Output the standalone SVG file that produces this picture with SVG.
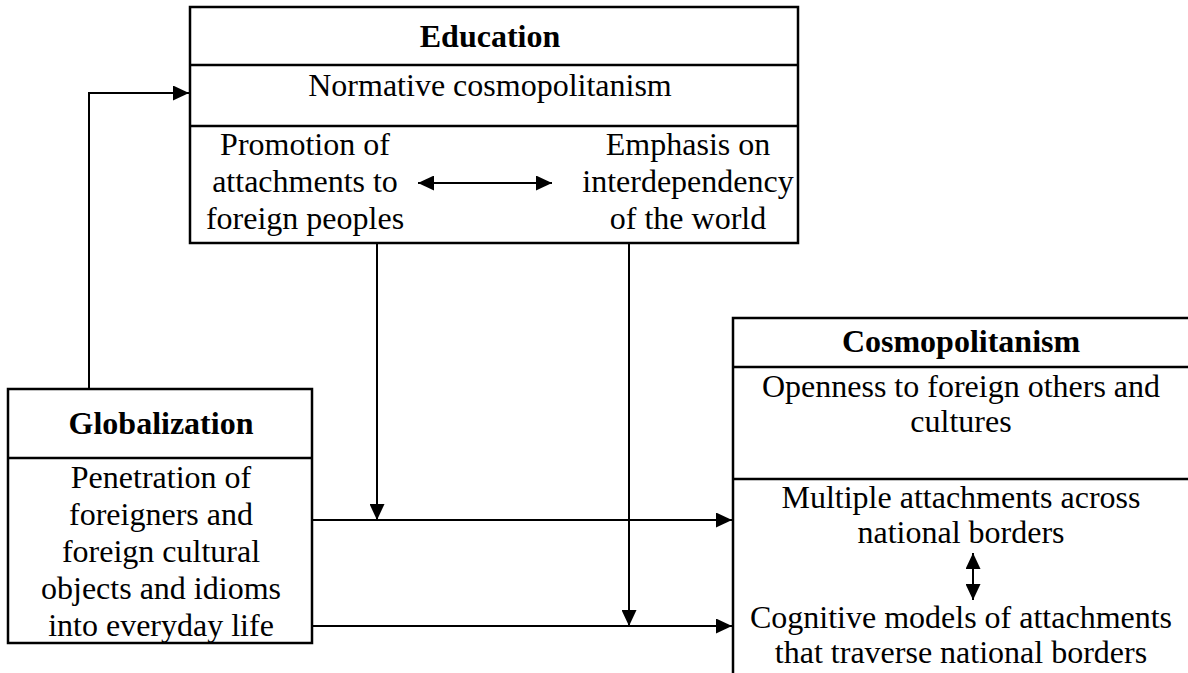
<svg xmlns="http://www.w3.org/2000/svg" width="1188" height="673" viewBox="0 0 1188 673">
<style>
.box{fill:none;stroke:#000;stroke-width:2.5}
.div{stroke:#000;stroke-width:2.5}
.t{font-family:"Liberation Serif","Times New Roman",serif;font-size:32px;fill:#000;text-anchor:middle}
.b{font-weight:bold}
.c{fill:none;stroke:#000;stroke-width:2}
</style>
<defs>
<marker id="ah" markerUnits="userSpaceOnUse" markerWidth="16" markerHeight="15" refX="16" refY="7.5" orient="auto-start-reverse">
<path d="M0,0 L16,7.5 L0,15 z" fill="#000"/>
</marker>
</defs>
<rect width="1188" height="673" fill="#fff"/>
<g id="education">
<rect class="box" x="190" y="7" width="608" height="236"/>
<line class="div" x1="190" y1="65" x2="798" y2="65"/>
<line class="div" x1="190" y1="126" x2="798" y2="126"/>
<text class="t b" x="490" y="47">Education</text>
<text class="t" x="490" y="96">Normative cosmopolitanism</text>
<text class="t" x="305" y="155">Promotion of</text>
<text class="t" x="305" y="192">attachments to</text>
<text class="t" x="305" y="229">foreign peoples</text>
<text class="t" x="688" y="155">Emphasis on</text>
<text class="t" x="688" y="192">interdependency</text>
<text class="t" x="688" y="229">of the world</text>
</g>
<g id="globalization">
<rect class="box" x="8" y="389" width="304" height="254"/>
<line class="div" x1="8" y1="458" x2="312" y2="458"/>
<text class="t b" x="161" y="434">Globalization</text>
<text class="t" x="161" y="488">Penetration of</text>
<text class="t" x="161" y="525">foreigners and</text>
<text class="t" x="161" y="562">foreign cultural</text>
<text class="t" x="161" y="599">objects and idioms</text>
<text class="t" x="161" y="636">into everyday life</text>
</g>
<g id="cosmopolitanism">
<rect class="box" x="733" y="318" width="470" height="400"/>
<line class="div" x1="733" y1="367" x2="1188" y2="367"/>
<line class="div" x1="733" y1="479" x2="1188" y2="479"/>
<text class="t b" x="961" y="352">Cosmopolitanism</text>
<text class="t" x="961" y="397">Openness to foreign others and</text>
<text class="t" x="961" y="432">cultures</text>
<text class="t" x="961" y="508">Multiple attachments across</text>
<text class="t" x="961" y="543">national borders</text>
<text class="t" x="961" y="628">Cognitive models of attachments</text>
<text class="t" x="961" y="663">that traverse national borders</text>
</g>
<g id="connectors">
<path class="c" d="M89,389 V93 H189" marker-end="url(#ah)"/>
<path class="c" d="M377,243 V520" marker-end="url(#ah)"/>
<path class="c" d="M629,243 V626" marker-end="url(#ah)"/>
<path class="c" d="M312,520 H732" marker-end="url(#ah)"/>
<path class="c" d="M312,626 H732" marker-end="url(#ah)"/>
<path class="c" d="M418,183 H552" marker-start="url(#ah)" marker-end="url(#ah)"/>
<path class="c" d="M973,553 V600" marker-start="url(#ah)" marker-end="url(#ah)"/>
</g>
</svg>
